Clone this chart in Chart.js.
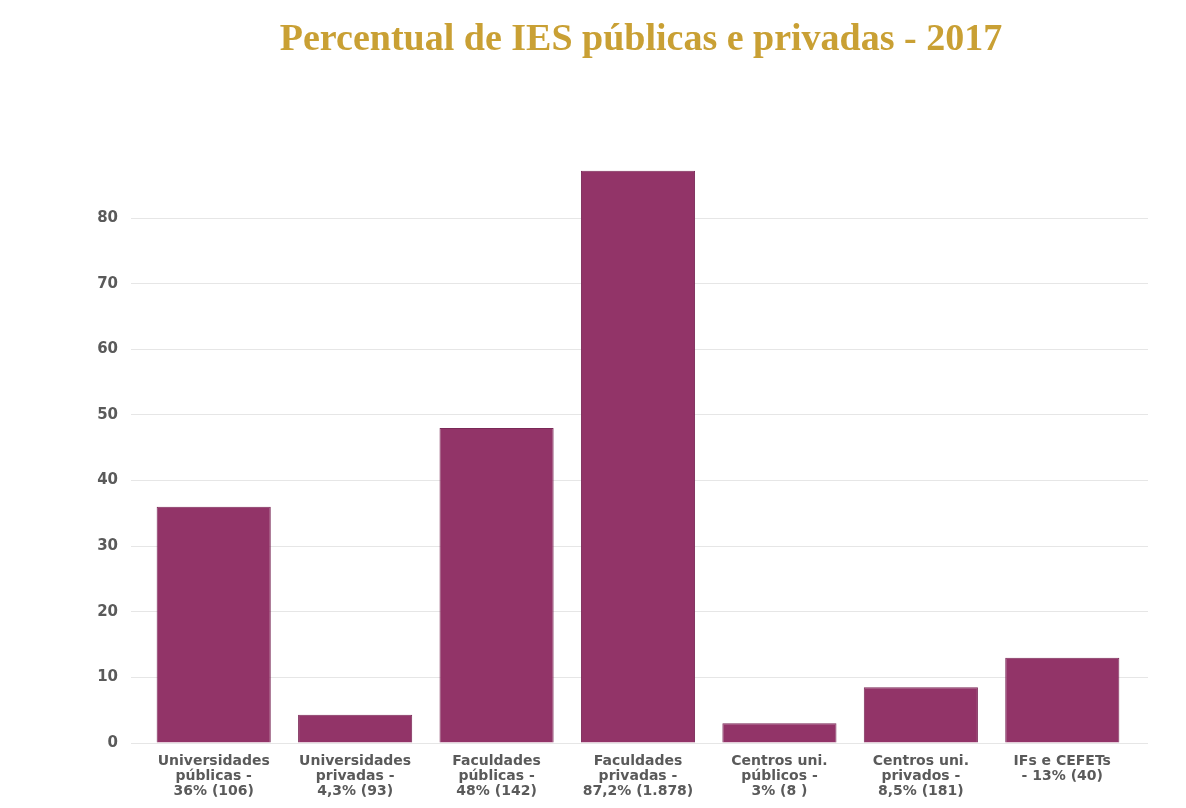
<!DOCTYPE html>
<html lang="pt-BR">
<head>
<meta charset="utf-8">
<title>Percentual de IES públicas e privadas - 2017</title>
<script src="https://cdn.jsdelivr.net/npm/chart.js@4.4.0/dist/chart.umd.min.js"></script>
<style>
    html, body { margin: 0; padding: 0; background: #fff; }
    #wrap { position: relative; width: 1186px; height: 808px; }
    #titulo {
        position: absolute; left: 0; top: 15px; width: 1282px;
        text-align: center;
        font-family: "Liberation Serif", "Times New Roman", serif;
        font-weight: bold; font-size: 38px; line-height: 44px; color: #c9a034;
        margin: 0;
    }
    canvas { position: absolute; left: 0; top: 0; }
</style>
</head>
<body>
<div id="wrap">
    <canvas id="iesChart" width="1186" height="808"></canvas>
    <h1 id="titulo">Percentual de IES públicas e privadas - 2017</h1>
</div>
<script>
// categorias (cada rótulo em linhas)
var categorias = [
    ['Universidades', 'públicas -', '36% (106)'],
    ['Universidades', 'privadas -', '4,3% (93)'],
    ['Faculdades', 'públicas -', '48% (142)'],
    ['Faculdades', 'privadas -', '87,2% (1.878)'],
    ['Centros uni.', 'públicos -', '3% (8 )'],
    ['Centros uni.', 'privados -', '8,5% (181)'],
    ['IFs e CEFETs', '- 13% (40)']
];
// percentuais
var percentuais = [36, 4.3, 48, 87.2, 3, 8.5, 13];
var eixoMax = 88;
var eixoPasso = 10;

document.addEventListener('DOMContentLoaded', function() {
    var corGrade = '#e6e6e6';

    function soAte80(scale) {
        scale.ticks = scale.ticks.filter(function(t) { return t.value <= 80; });
    }

    var ctx = document.getElementById('iesChart').getContext('2d');
    new Chart(ctx, {
        type: 'bar',
        data: {
            labels: categorias,
            datasets: [{
                data: percentuais,
                backgroundColor: '#923468',
                borderColor: '#7a2957',
                borderWidth: 1,
                categoryPercentage: 1,
                barPercentage: 0.807
            }]
        },
        options: {
            responsive: false,
            animation: false,
            layout: { padding: { left: 0, right: 38, top: 165.5, bottom: 0 } },
            plugins: {
                legend: { display: false },
                tooltip: { enabled: false }
            },
            scales: {
                x: {
                    grid: { display: false, drawTicks: false },
                    border: { display: false },
                    ticks: {
                        padding: 11,
                        maxRotation: 0,
                        autoSkip: false,
                        color: '#5a5a5a',
                        font: { family: 'DejaVu Sans', weight: 'bold', size: 14, lineHeight: 1.07 }
                    },
                    afterFit: function(scale) { scale.height = 65; }
                },
                y: {
                    min: 0,
                    max: eixoMax,
                    afterBuildTicks: soAte80,
                    grid: { color: corGrade, tickLength: 12, tickColor: corGrade },
                    border: { display: false },
                    ticks: {
                        stepSize: eixoPasso,
                        padding: 13,
                        color: '#5a5a5a',
                        font: { family: 'DejaVu Sans', weight: 'bold', size: 15 }
                    },
                    afterFit: function(scale) { scale.width = 143; }
                },
                y2: {
                    position: 'right',
                    min: 0,
                    max: eixoMax,
                    afterBuildTicks: soAte80,
                    grid: { drawOnChartArea: false, tickLength: 15, tickColor: corGrade },
                    border: { display: false },
                    ticks: { stepSize: eixoPasso, display: false },
                    afterFit: function(scale) { scale.width = 15; }
                }
            }
        }
    });
});
</script>
</body>
</html>
